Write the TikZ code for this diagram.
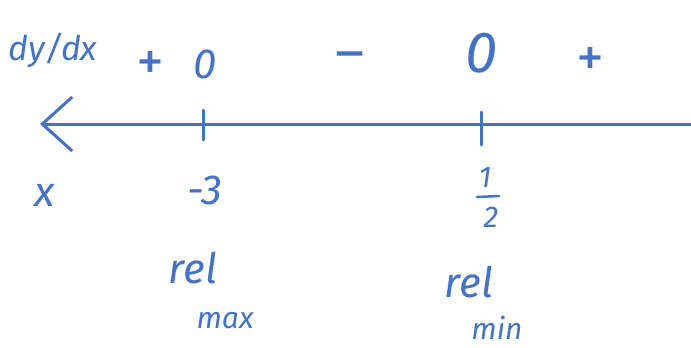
\documentclass[tikz,border=0pt]{standalone}
\usepackage{fontspec}
\setmainfont{Fira Sans}
\usetikzlibrary{arrows.meta}
\definecolor{ink}{RGB}{68,114,196}
\begin{document}
\begin{tikzpicture}[x=1pt,y=-1pt,
  ink/.style={draw=ink,line width=3pt,line cap=round},
  lbl/.style={text=ink,inner sep=0pt,font=\fontsize{42}{44}\selectfont\itshape},
  sign/.style={text=ink,inner sep=0pt,font=\fontsize{56}{58}\selectfont},
  small/.style={text=ink,inner sep=0pt,font=\fontsize{30}{32}\selectfont\itshape}]
\useasboundingbox (0,0) rectangle (691,348);
% axis
\coordinate (axR) at (691,124);
\coordinate (axL) at (40,124);
\draw[ink,-{Straight Barb[length=30pt,width=54pt,line width=3pt]}] (axR) -- (axL);
% ticks
\coordinate (t1a) at (203,110); \coordinate (t1b) at (203,140);
\coordinate (t2a) at (481,112); \coordinate (t2b) at (481,145);
\draw[ink] (t1a) -- (t1b);
\draw[ink] (t2a) -- (t2b);
% sign row
\node[lbl,font=\fontsize{34}{36}\selectfont\itshape] (dydx) at (53,50) {dy/dx};
\node[sign] (p1) at (150,66) {+};
\node[lbl] (z1) at (205,64) {0};
\node[sign] (m1) at (350,62) {\textendash};
\node[lbl,font=\fontsize{58}{60}\selectfont\itshape] (z2) at (482,53) {0};
\node[sign] (p2) at (590,62) {+};
% x row
\node[lbl] (xl) at (45,195) {x};
\node[lbl] (m3) at (205,190) {-3};
\node[small] (num) at (485,177) {1};
\node[small] (den) at (491,217) {2};
\coordinate (barL) at (477,197); \coordinate (barR) at (499,196);
\draw[draw=ink,line width=2.5pt,line cap=round] (barL) -- (barR);
% labels
\node[lbl] (rel1) at (193,268) {rel};
\node[small] (max) at (225,321) {max};
\node[lbl] (rel2) at (469,282) {rel};
\node[small] (min) at (497,328) {min};
\end{tikzpicture}
\end{document}
